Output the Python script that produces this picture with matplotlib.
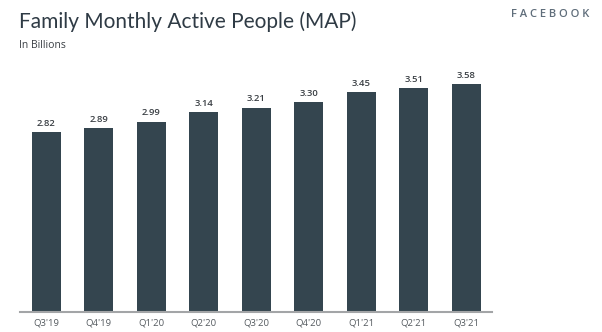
import matplotlib
matplotlib.use("Agg")
import matplotlib.pyplot as plt

# datos
trimestres = ["Q3'19", "Q4'19", "Q1'20", "Q2'20", "Q3'20",
              "Q4'20", "Q1'21", "Q2'21", "Q3'21"]
map_billones = [2.82, 2.89, 2.99, 3.14, 3.21, 3.30, 3.45, 3.51, 3.58]

plt.rcParams['font.family'] = ['Open Sans', 'DejaVu Sans']

fig = plt.figure(figsize=(6.02, 3.32), dpi=100)
ax = fig.add_axes([20 / 602, 20 / 332, 472.5 / 602, 254.8 / 332])

x = range(len(trimestres))
ax.bar(x, map_billones, width=0.545, color='#34454f')

for i, v in enumerate(map_billones):
    ax.annotate("{:.2f}".format(v), (i, v), xytext=(0, 3),
                textcoords='offset points', ha='center', va='bottom',
                fontsize=6.8, fontweight='semibold', color='#3a3f44')

ax.set_xlim(-0.5, len(trimestres) - 0.5)
ax.set_ylim(0, 4)
ax.set_xticks(list(x))
ax.set_xticklabels(trimestres, fontsize=6.8, color='#555b60')
ax.tick_params(axis='x', length=0, pad=5)
ax.set_yticks([])
for s in ['top', 'right', 'left']:
    ax.spines[s].set_visible(False)
ax.spines['bottom'].set_color('#a3a5a7')
ax.spines['bottom'].set_linewidth(1.5)

fig.text(19 / 602, 1 - 28.5 / 332, "Family Monthly Active People (MAP)",
         fontsize=15, family=['Lato', 'DejaVu Sans'], color='#2f3b45',
         ha='left', va='baseline')
fig.text(19 / 602, 1 - 45.7 / 332, "In Billions", fontsize=7.5,
         color='#3a3f44', ha='left', va='center')
fig.text(589 / 602, 1 - 14.7 / 332, "F A C E B O O K", fontsize=8,
         fontweight='semibold', color='#5f6d7a', ha='right', va='center')

fig.savefig("out.png", dpi=100, facecolor='white')
